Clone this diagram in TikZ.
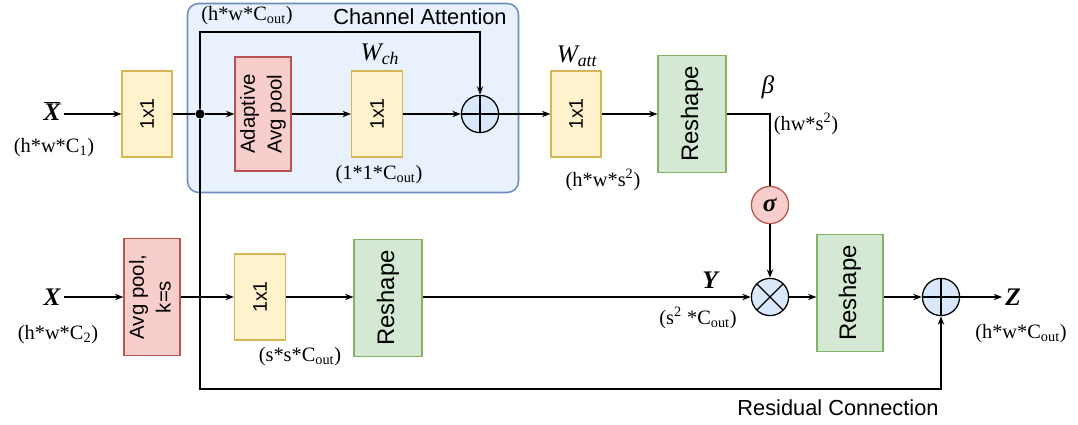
\documentclass[tikz,border=0pt]{standalone}
\usepackage{fontspec}
\setmainfont{Liberation Serif}
\setsansfont{Liberation Sans}
\usepackage{xcolor}
\usepackage{tikz}
\usetikzlibrary{arrows.meta, shapes, positioning, calc}

\definecolor{convfill}{HTML}{FFF2CC}
\definecolor{convdraw}{HTML}{D6B656}
\definecolor{poolfill}{HTML}{F8CECC}
\definecolor{pooldraw}{HTML}{B85450}
\definecolor{shapefill}{HTML}{D5E8D4}
\definecolor{shapedraw}{HTML}{82B366}
\definecolor{opfill}{HTML}{DAE8FC}
\definecolor{groupdraw}{HTML}{6C8EBF}

\begin{document}
\begin{tikzpicture}[x=0.025cm, y=-0.025cm,
        box/.style 2 args={rectangle, inner sep=0pt, minimum width=#1*0.025cm, minimum height=#2*0.025cm},
        conv/.style={draw=convdraw, fill=convfill, line width=0.8pt, font={\sffamily\fontsize{14}{16}\selectfont}},
        pool/.style={draw=pooldraw, fill=poolfill, line width=0.8pt, font={\sffamily\fontsize{14.5}{19}\selectfont}},
        reshape/.style={draw=shapedraw, fill=shapefill, line width=0.8pt, font={\sffamily\fontsize{17}{19}\selectfont}},
        group/.style={draw=groupdraw, fill=opfill!60!white, line width=1.1pt, rounded corners=8pt},
        addop/.style={circle, draw, fill=opfill, line width=0.9pt, inner sep=0pt, minimum size=0.93cm,
            path picture={\draw[line width=0.9pt] (path picture bounding box.north) -- (path picture bounding box.south)
                (path picture bounding box.west) -- (path picture bounding box.east);}},
        mulop/.style={circle, draw, fill=opfill, line width=0.9pt, inner sep=0pt, minimum size=0.93cm,
            path picture={\draw[line width=0.9pt] (path picture bounding box.north west) -- (path picture bounding box.south east)
                (path picture bounding box.south west) -- (path picture bounding box.north east);}},
        sig/.style={circle, draw=pooldraw, fill=poolfill, line width=0.9pt, inner sep=0pt, minimum size=0.93cm, font={\fontsize{18}{20}\selectfont}},
        dotnode/.style={circle, fill=black, inner sep=0pt, minimum size=0.23cm},
        dim/.style={font={\fontsize{14.5}{16}\selectfont}, inner sep=1pt},
        var/.style={font={\fontsize{18}{20}\selectfont\bfseries\itshape}, inner sep=2pt},
        wlabel/.style={font={\fontsize{18}{20}\selectfont\itshape}, inner sep=1pt},
        title/.style={font={\sffamily\fontsize{15.5}{18}\selectfont}, inner sep=1pt},
        line/.style={line width=1pt, -},
        arr/.style={line width=1pt, -{Stealth[length=6pt, width=4.5pt]}}
    ]
        \useasboundingbox (0,0) rectangle (1078,425);
        % Channel attention group
        \node[group, box={331}{189}] (ca) at (353,98) {};
        \node[title] (catitle) at (420,17) {Channel Attention};
        \node[dim] (skipdim) at (247,16) {(h*w*C\textsubscript{out})};
        % Upper branch
        \node[var] (xbar) at (52,111) {$\overline{\mbox{\textbf{\textit{X}}}}$};
        \node[dim] (xbardim) at (54,148) {(h*w*C\textsubscript{1})};
        \node[conv, box={50}{86}] (conv1) at (147,114) {\rotatebox{90}{1x1}};
        \node[dotnode] (split) at (200,114) {};
        \node[pool, box={56}{114}] (apool) at (263,114) {\rotatebox{90}{\begin{tabular}{@{}c@{}}Adaptive\\Avg pool\end{tabular}}};
        \node[conv, box={51}{86}] (wch) at (377,114) {\rotatebox{90}{1x1}};
        \node[wlabel] (wchlabel) at (380,54) {W\textsubscript{ch}};
        \node[dim] (wchdim) at (379,175) {(1*1*C\textsubscript{out})};
        \node[addop] (add1) at (480,114) {};
        \node[conv, box={50}{86}] (watt) at (576,114) {\rotatebox{90}{1x1}};
        \node[wlabel] (wattlabel) at (577,56) {W\textsubscript{att}};
        \node[dim] (wattdim) at (603,180) {(h*w*s\textsuperscript{2})};
        \node[reshape, box={68}{117}] (rs1) at (692,114) {\rotatebox{90}{Reshape}};
        \node[wlabel] (beta) at (768,87) {β};
        \node[dim] (betadim) at (806,124) {(hw*s\textsuperscript{2})};
        \node[sig] (sigma) at (770,205) {\textbf{\textit{σ}}};
        \coordinate (skip) at (480,32);
        % Lower branch
        \node[var] (x) at (52,297) {X};
        \node[dim] (xdim) at (58,335) {(h*w*C\textsubscript{2})};
        \node[pool, box={56}{117}] (kpool) at (152,297) {\rotatebox{90}{\begin{tabular}{@{}c@{}}Avg pool,\\k=s\end{tabular}}};
        \node[conv, box={51}{86}] (conv2) at (260,297) {\rotatebox{90}{1x1}};
        \node[dim] (conv2dim) at (300,357) {(s*s*C\textsubscript{out})};
        \node[reshape, box={68}{117}] (rs2) at (388,298) {\rotatebox{90}{Reshape}};
        \node[var] (y) at (710,280) {Y};
        \node[dim] (ydim) at (698,318) {(s\textsuperscript{2} *C\textsubscript{out})};
        \node[mulop] (mul) at (770,297) {};
        \node[reshape, box={66}{117}] (rs3) at (850,293) {\rotatebox{90}{Reshape}};
        \node[addop] (add2) at (941,297) {};
        \node[var] (z) at (1013,297) {Z};
        \node[dim] (zdim) at (1021,334) {(h*w*C\textsubscript{out})};
        \node[title] (reslabel) at (838,408) {Residual Connection};
        \coordinate (res) at (941,389);
        % Upper lines
        \draw [arr] (xbar.east |- conv1) -- (conv1);
        \draw [line] (conv1) -- (split);
        \draw [arr] (split) -- (apool);
        \draw [arr] (apool) -- (wch);
        \draw [arr] (wch) -- (add1);
        \draw [arr] (split) |- (skip) -- (add1);
        \draw [arr] (add1) -- (watt);
        \draw [arr] (watt) -- (rs1);
        \draw [line] (rs1) -| (sigma);
        \draw [arr] (sigma) -- (mul);
        % Lower lines
        \draw [arr] (x) -- (kpool);
        \draw [arr] (kpool) -- (conv2);
        \draw [arr] (conv2) -- (conv2 -| rs2.west);
        \draw [arr] (rs2.east |- mul) -- (mul);
        \draw [arr] (mul) -- (mul -| rs3.west);
        \draw [arr] (rs3.east |- add2) -- (add2);
        \draw [arr] (add2) -- (z);
        \draw [arr] (split) |- (res) -- (add2);
    \end{tikzpicture}
\end{document}
